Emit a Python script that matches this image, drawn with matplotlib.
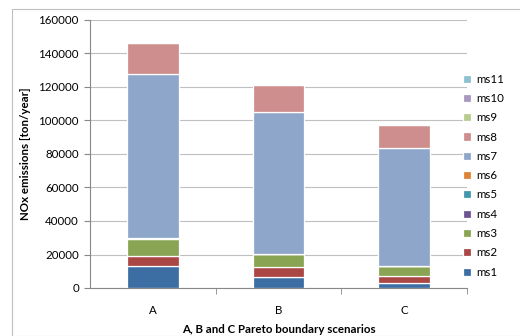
import matplotlib
matplotlib.use("Agg")
import matplotlib.pyplot as plt
from matplotlib.patches import Rectangle

plt.rcParams['font.family'] = ['Lato', 'DejaVu Sans']

categories = ["A", "B", "C"]
series_names = ["ms1", "ms2", "ms3", "ms4", "ms5", "ms6", "ms7", "ms8", "ms9", "ms10", "ms11"]
ms1 = [13000, 6700, 3200]
ms2 = [6000, 6000, 4000]
ms3 = [10500, 7400, 6100]
ms4 = [500, 0, 0]
ms5 = [0, 0, 0]
ms6 = [0, 0, 0]
ms7 = [97800, 84800, 70100]
ms8 = [18500, 16500, 13800]
ms9 = [500, 300, 800]
ms10 = [0, 0, 0]
ms11 = [0, 0, 0]
values = [ms1, ms2, ms3, ms4, ms5, ms6, ms7, ms8, ms9, ms10, ms11]
colors = ["#3D6EA3", "#AA4644", "#89A453", "#6E5592", "#3F97AE", "#DE8236",
          "#8FA6CB", "#CF8E8E", "#B5CC8E", "#A898BE", "#8DC1D2"]
yticks = [0, 20000, 40000, 60000, 80000, 100000, 120000, 140000, 160000]

fig = plt.figure(figsize=(5.2, 3.36), dpi=100)
# chart border
fig.patches.append(Rectangle((12/520, 0), 1, 1 - 9/336, transform=fig.transFigure,
                             fill=False, edgecolor="#BFBFBF", linewidth=0.8))
ax = fig.add_axes([90/520, 1 - 288/336, (467 - 90)/520, (288 - 20)/336])

x = list(range(len(categories)))
bottom = [0, 0, 0]
for name, vals, c in zip(series_names, values, colors):
    ax.bar(x, vals, width=0.41, bottom=bottom, color=c, edgecolor="white",
           linewidth=0.9, label=name, zorder=3)
    bottom = [b + v for b, v in zip(bottom, vals)]

fs = 8.3
ax.set_xlim(-0.5, 2.5)
ax.set_ylim(0, 160000)
ax.set_yticks(yticks)
ax.set_yticklabels([str(t) for t in yticks], fontsize=fs)
ax.set_xticks(x)
ax.set_xticklabels(categories, fontsize=fs)
ax.set_xticks([0.5, 1.5, 2.5], minor=True)
ax.tick_params(axis='x', which='major', length=0, pad=12)
ax.tick_params(axis='x', which='minor', length=4, color="#888888", direction='out')
ax.tick_params(axis='y', length=4, color="#888888", direction='out', pad=4)
ax.grid(axis='y', color="#BFBFBF", linewidth=0.8, zorder=0)
for s in ["top", "right"]:
    ax.spines[s].set_visible(False)
ax.spines["left"].set_color("#888888")
ax.spines["bottom"].set_color("#888888")

ax.set_ylabel("NOx emissions [ton/year]", fontsize=fs, fontweight='bold', labelpad=5)
ax.set_xlabel("A, B and C Pareto boundary scenarios", fontsize=fs, fontweight='bold', labelpad=6)

handles, labels = ax.get_legend_handles_labels()
leg = fig.legend(handles[::-1], labels[::-1], loc='upper left',
                 bbox_to_anchor=(458/520, 1 - 69/336), frameon=False, fontsize=fs,
                 handlelength=0.7, handleheight=0.7, handletextpad=0.5,
                 labelspacing=0.72, borderaxespad=0)

fig.savefig("out.png", dpi=100)
